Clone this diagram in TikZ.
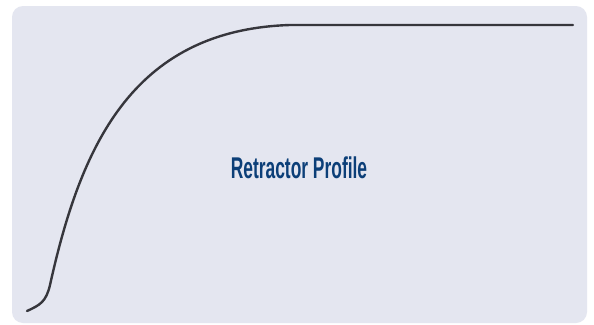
\documentclass[tikz,border=0pt]{standalone}
\usepackage{fontspec}
\newfontfamily\condfont[FakeStretch=0.58]{Liberation Sans}
\definecolor{panelbg}{HTML}{E4E6F0}
\definecolor{curvecol}{HTML}{36363C}
\definecolor{titleblue}{HTML}{0C3F78}
\begin{document}
\begin{tikzpicture}[x=1pt,y=-1pt,
  panel/.style={fill=panelbg,draw=none,rounded corners=11pt},
  profile/.style={draw=curvecol,line width=2.4pt,line cap=round,line join=round},
  title/.style={text=titleblue,font=\condfont\bfseries\fontsize{30}{32}\selectfont,inner sep=0pt}]
\useasboundingbox (0,0) rectangle (594,324);
\fill[white] (0,0) rectangle (594,324);
\path[panel] (12,6) rectangle (587,323);
\coordinate (s) at (27,311);
\coordinate (k) at (50,285);
\coordinate (t) at (290,25);
\coordinate (e) at (573,25);
\draw[profile] (s) .. controls (40,305) and (46,302) .. (k)
  .. controls (80,150) and (130,30) .. (t) -- (e);
\node[title] (label) at (299,168) {Retractor Profile};
\end{tikzpicture}
\end{document}
